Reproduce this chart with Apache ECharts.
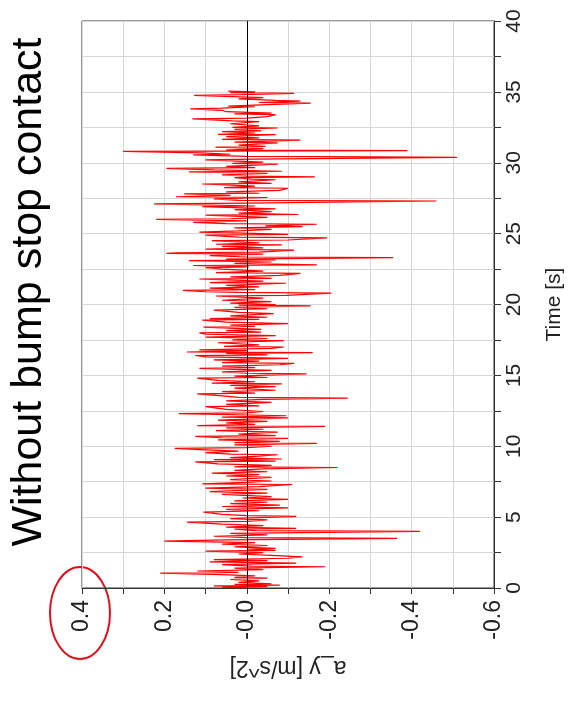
<!DOCTYPE html>
<html>
<head>
<meta charset="utf-8">
<script src="https://cdn.jsdelivr.net/npm/echarts@6/dist/echarts.min.js"></script>
<style>html,body{margin:0;padding:0;background:#fff;}#c{width:573px;height:702px;}</style>
</head>
<body>
<div id="c"></div>
<script>
const titleText = 'Without bump stop contact';
const accelName = 'a_y [m/s^2]';
const timeName = 'Time [s]';
const accelTicks = [-0.6, -0.4, -0.2, 0.0, 0.2, 0.4];
const timeTicks = [0, 5, 10, 15, 20, 25, 30, 35, 40];

const time = [
0,0.05,0.1,0.15,0.2,0.25,0.3,0.4,0.5,0.6,0.7,0.75,0.85,0.95,1.05,1.1,1.2,1.3,1.4,1.5,1.55,1.65,1.75,1.85,1.93,2.0,2.1,2.2,2.3,2.4,2.5,2.6,2.65,2.75,2.8,2.9,3.0,3.1,3.2,3.3,3.4,3.5,3.55,3.65,3.75,3.85,4.0,4.05,4.15,4.2,4.3,4.4,4.5,4.65,4.7,4.8,4.9,5.05,5.1,5.2,5.35,5.45,5.55,5.65,5.75,5.85,5.95,6.05,6.15,6.25,6.35,6.45,6.6,6.7,6.8,6.96,7.05,7.15,7.3,7.35,7.45,7.55,7.65,7.8,7.9,8.0,8.1,8.2,8.3,8.4,8.5,8.55,8.65,8.75,8.9,8.95,9.05,9.1,9.2,9.3,9.4,9.45,9.55,9.65,9.75,9.85,9.9,10.0,10.1,10.2,10.25,10.35,10.45,10.55,10.6,10.7,10.75,10.85,11.0,11.1,11.2,11.3,11.4,11.45,11.55,11.65,11.75,11.85,12.0,12.05,12.15,12.3,12.35,12.45,12.6,12.8,12.85,12.95,13.1,13.2,13.3,13.4,13.45,13.55,13.7,13.75,13.85,13.95,14.1,14.2,14.3,14.4,14.45,14.55,14.65,14.8,14.85,14.95,15.1,15.15,15.25,15.35,15.5,15.55,15.65,15.75,15.85,15.9,16.0,16.1,16.2,16.3,16.4,16.45,16.55,16.6,16.65,16.75,16.8,16.9,17.0,17.05,17.15,17.3,17.45,17.5,17.6,17.7,17.8,17.9,18.0,18.05,18.15,18.25,18.4,18.45,18.55,18.65,18.75,18.9,18.95,19.0,19.1,19.2,19.35,19.45,19.6,19.7,19.8,19.9,19.95,20.0,20.1,20.2,20.3,20.45,20.6,20.65,20.8,20.85,20.9,21.0,21.05,21.15,21.25,21.35,21.5,21.55,21.65,21.8,21.85,21.95,22.05,22.2,22.25,22.35,22.5,22.6,22.65,22.75,22.8,22.9,23.0,23.1,23.15,23.2,23.3,23.35,23.45,23.55,23.6,23.65,23.7,23.84,23.9,24.0,24.1,24.2,24.25,24.35,24.5,24.55,24.7,24.75,24.9,24.95,25.05,25.1,25.2,25.3,25.4,25.5,25.55,25.66,25.7,25.8,25.9,26.0,26.05,26.15,26.3,26.35,26.45,26.55,26.7,26.75,26.85,26.9,26.95,27.1,27.15,27.3,27.35,27.45,27.55,27.6,27.7,27.8,27.85,27.95,28.05,28.2,28.25,28.35,28.5,28.55,28.65,28.8,28.85,28.95,29.0,29.05,29.15,29.25,29.35,29.4,29.5,29.6,29.65,29.75,29.9,29.95,30.05,30.2,30.25,30.38,30.42,30.45,30.55,30.6,30.7,30.8,30.85,30.9,31.0,31.1,31.15,31.25,31.4,31.45,31.6,31.65,31.75,31.85,31.98,32.0,32.1,32.2,32.25,32.35,32.45,32.5,32.6,32.75,32.9,32.95,33.1,33.15,33.25,33.4,33.45,33.5,33.6,33.7,33.8,33.85,33.95,34.0,34.1,34.2,34.25,34.35,34.4,34.5,34.6,34.75,34.8,34.9,34.95,35.0,35.05
];
const accel = [
0.0,0.06,-0.05,0.08,-0.08,0.03,-0.06,0.02,-0.03,0.04,-0.05,0.03,-0.02,0.06,0.21,0.02,0.12,-0.04,0.03,-0.19,-0.01,0.06,-0.12,0.09,-0.05,0.08,-0.1,-0.135,-0.06,0.02,-0.04,0.1,-0.07,0.0,-0.07,0.03,-0.05,0.06,-0.02,0.2,0.05,-0.365,0.0,0.08,-0.05,0.04,-0.42,-0.02,0.03,-0.12,0.05,-0.04,0.06,0.145,0.0,-0.05,0.04,-0.12,0.0,0.06,0.105,-0.03,0.05,-0.1,0.06,-0.08,0.04,-0.05,0.03,-0.1,0.01,-0.06,0.06,-0.05,0.09,-0.05,0.1,-0.03,-0.11,0.108,0.0,-0.06,0.04,-0.06,0.05,-0.03,0.085,-0.05,0.03,-0.04,-0.22,0.03,-0.06,0.07,0.125,-0.07,0.08,-0.085,0.04,-0.03,-0.075,0.04,0.1,0.02,0.1,0.175,0.0,-0.06,0.03,-0.17,0.03,-0.08,0.07,-0.1,0.06,0.125,-0.07,0.02,-0.075,0.075,-0.04,0.05,-0.19,0.12,-0.02,0.05,-0.05,0.07,-0.1,0.06,-0.096,0.165,0.0,-0.04,0.05,0.1,-0.03,0.05,-0.06,0.05,-0.04,-0.245,0.02,0.06,0.12,-0.02,0.06,-0.07,0.03,-0.07,0.04,-0.085,0.085,-0.02,0.07,0.12,-0.05,0.03,-0.145,0.0,0.06,-0.06,0.115,-0.02,0.06,-0.08,-0.115,0.06,-0.03,0.08,-0.1,0.1,0.125,-0.05,0.05,-0.16,0.145,0.0,0.115,-0.06,-0.09,0.055,-0.03,0.07,-0.09,0.035,-0.05,0.1,-0.07,0.1,0.115,-0.035,0.05,-0.035,0.105,-0.02,0.04,-0.1,0.05,0.108,-0.03,0.09,-0.05,0.04,-0.065,0.02,0.08,-0.05,0.03,-0.155,0.02,-0.07,0.04,-0.06,0.06,-0.04,0.075,-0.095,-0.205,0.02,0.1,0.155,-0.02,0.09,-0.03,0.05,-0.095,0.09,-0.04,0.115,-0.06,0.04,-0.08,-0.13,0.075,-0.04,0.06,0.1,-0.005,0.13,-0.17,0.03,-0.06,0.14,-0.07,0.05,-0.355,0.0,0.09,-0.04,0.195,0.17,-0.03,-0.115,0.1,-0.04,0.06,-0.085,0.075,-0.03,0.085,-0.1,-0.195,0.02,0.1,-0.1,0.03,0.115,0.02,-0.06,0.03,-0.135,-0.045,-0.17,0.05,0.13,0.0,0.22,0.04,-0.05,0.1,-0.125,0.02,-0.06,0.03,-0.07,0.05,0.108,-0.02,0.225,0.0,-0.46,0.02,0.08,-0.05,0.172,0.04,0.152,-0.03,0.05,-0.08,-0.1,0.055,-0.02,0.108,-0.06,0.02,-0.07,-0.01,0.03,-0.165,0.0,0.06,-0.05,0.14,-0.085,0.08,0.195,-0.02,0.05,-0.075,0.035,-0.04,0.1,-0.02,-0.51,-0.3,0.0,0.13,0.04,0.11,0.3,-0.39,0.05,-0.04,0.076,-0.045,0.02,-0.075,0.03,-0.13,0.06,-0.03,0.05,-0.07,0.07,-0.02,0.06,-0.035,0.03,-0.075,0.035,-0.03,0.04,-0.03,0.035,0.132,0.0,-0.05,-0.07,0.03,-0.06,0.05,0.06,0.137,0.06,-0.02,0.045,-0.05,-0.155,-0.03,-0.13,-0.07,0.02,-0.04,0.128,0.01,-0.115,0.04,-0.02,0.045
];

const seriesData = time.map((t, i) => [accel[i], t]);
const FONT = '"Liberation Sans", Arial, sans-serif';

const chart = echarts.init(document.getElementById('c'), null, {renderer: 'canvas'});
chart.setOption({
  animation: false,
  backgroundColor: '#ffffff',
  grid: {left: 82, right: 75, top: 21, bottom: 114, show: true, borderColor: '#333', borderWidth: 1, backgroundColor: 'transparent'},
  xAxis: {
    type: 'value', inverse: true,
    min: accelTicks[0], max: accelTicks[accelTicks.length - 1], interval: 0.2,
    name: accelName, nameLocation: 'middle', nameRotate: 180, nameGap: 68,
    nameTextStyle: {fontFamily: FONT, fontSize: 23, color: '#222'},
    axisLine: {show: true, onZero: false, lineStyle: {color: '#333', width: 1}},
    axisTick: {show: true, length: 6, lineStyle: {color: '#333'}},
    minorTick: {show: true, splitNumber: 2, length: 6, lineStyle: {color: '#333'}},
    splitLine: {show: true, lineStyle: {color: '#d6d6d6', width: 1}},
    minorSplitLine: {show: true, lineStyle: {color: '#d6d6d6', width: 1}},
    axisLabel: {
      rotate: 90, margin: 12, fontFamily: FONT, fontSize: 23, color: '#222',
      formatter: v => { const r = Math.round(v * 10) / 10; return r === 0 ? '-0.0' : r.toFixed(1); }
    }
  },
  yAxis: {
    type: 'value', position: 'right',
    min: timeTicks[0], max: timeTicks[timeTicks.length - 1], interval: 5,
    name: timeName, nameLocation: 'middle', nameRotate: 90, nameGap: 50,
    nameTextStyle: {fontFamily: FONT, fontSize: 21, color: '#222', padding: [0, 0, 0, 0]},
    axisLine: {show: true, onZero: false, lineStyle: {color: '#333', width: 1}},
    axisTick: {show: true, length: 7, lineStyle: {color: '#333'}},
    minorTick: {show: true, splitNumber: 2, length: 7, lineStyle: {color: '#333'}},
    splitLine: {show: true, lineStyle: {color: '#d6d6d6', width: 1}},
    minorSplitLine: {show: true, lineStyle: {color: '#d6d6d6', width: 1}},
    axisLabel: {rotate: 90, margin: 10, fontFamily: FONT, fontSize: 21, color: '#222'}
  },
  series: [{
    type: 'line', data: seriesData, showSymbol: false, symbol: 'none',
    lineStyle: {color: '#ff0000', width: 1.2}, sampling: null, z: 3,
    markLine: {
      silent: true, symbol: 'none', animation: false, label: {show: false},
      lineStyle: {color: '#000', width: 1, type: 'solid'},
      data: [{xAxis: 0}]
    }
  }],
  graphic: [
    {type: 'text', x: 29, y: 292, rotation: Math.PI / 2,
     style: {text: titleText, fontFamily: FONT, fontSize: 43, fill: '#000', align: 'center', verticalAlign: 'middle'}},
    {type: 'ellipse', shape: {cx: 80, cy: 613, rx: 30, ry: 46},
     style: {fill: 'none', stroke: '#e0101c', lineWidth: 2}}
  ]
});
</script>
</body>
</html>
